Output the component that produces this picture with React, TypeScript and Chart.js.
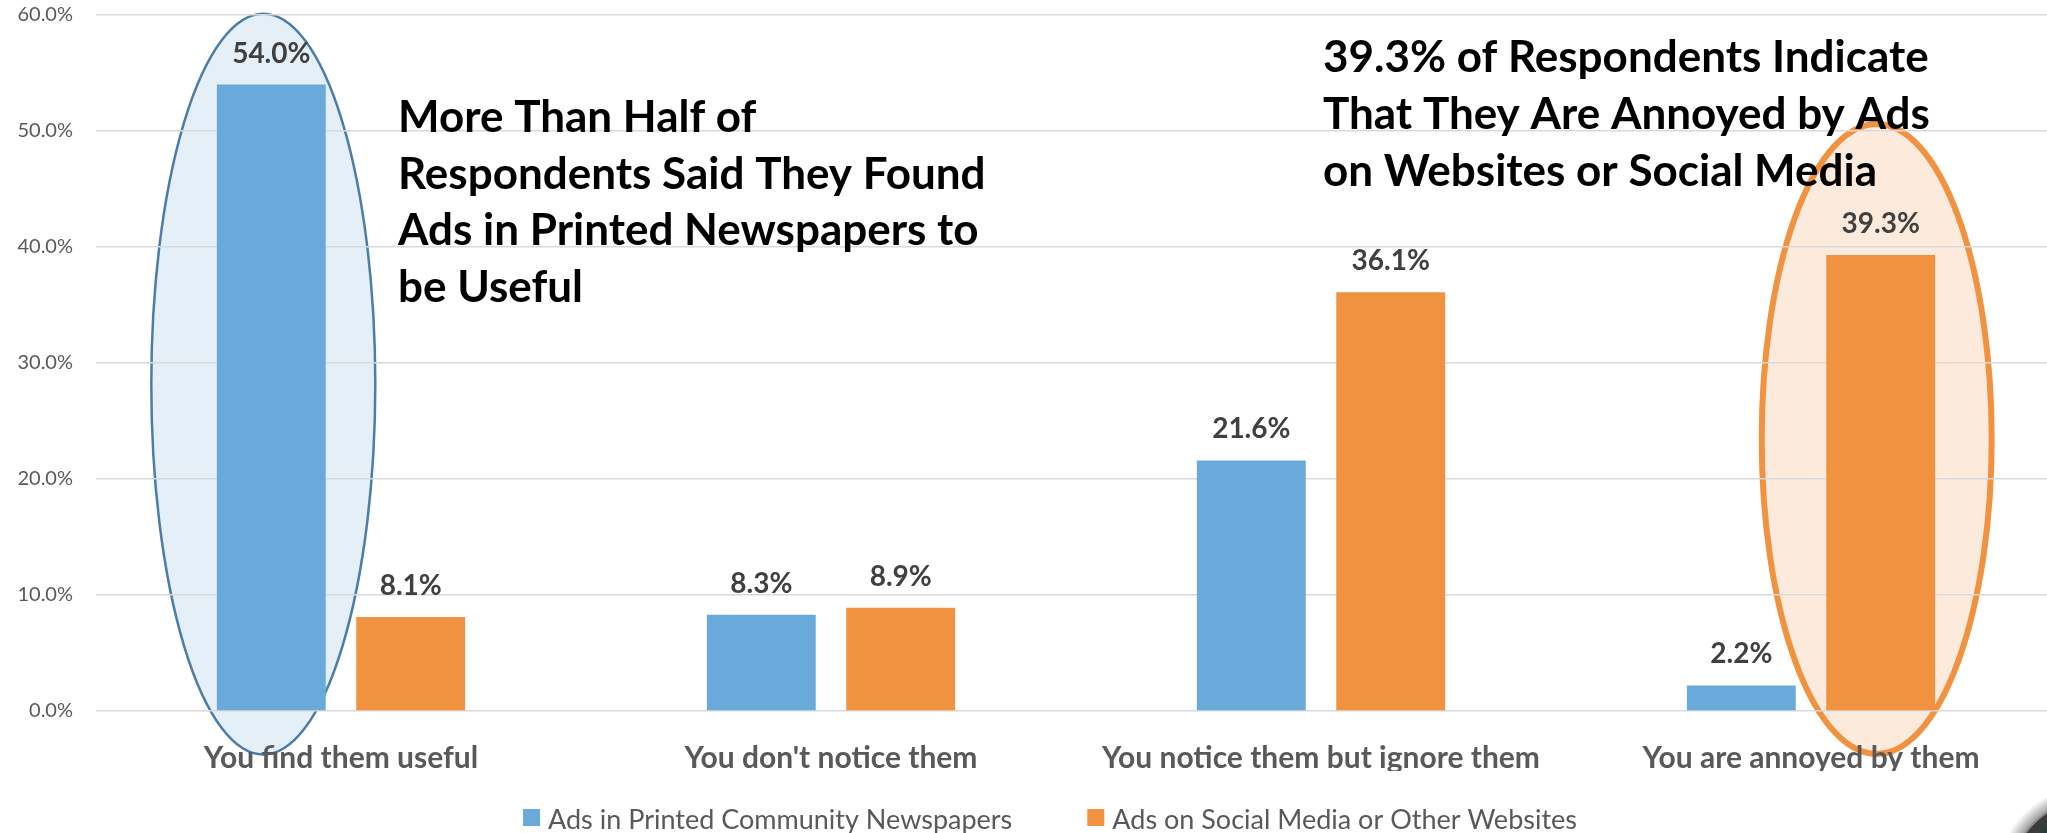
import React, { useEffect, useRef } from "react";
import { Chart, registerables } from "chart.js";

Chart.register(...registerables);

// ---- data ----
const categories = [
  "You find them useful",
  "You don't notice them",
  "You notice them but ignore them",
  "You are annoyed by them",
];
const printedValues = [54.0, 8.3, 21.6, 2.2];
const socialValues = [8.1, 8.9, 36.1, 39.3];
const seriesLabels = [
  "Ads in Printed Community Newspapers",
  "Ads on Social Media or Other Websites",
];
const yMin = 0;
const yMax = 60;
const yStep = 10;
const noteLeft = [
  "More Than Half of",
  "Respondents Said They Found",
  "Ads in Printed Newspapers to",
  "be Useful",
];
const noteRight = [
  "39.3% of Respondents Indicate",
  "That They Are Annoyed by Ads",
  "on Websites or Social Media",
];

// ---- styles ----
const BLUE = "#6AAADB";
const ORANGE = "#F19240";
const FONT = 'Lato, "Open Sans", sans-serif';

const overlayPlugin = {
  id: "overlay",
  beforeDraw(chart: any) {
    const ctx = chart.ctx;
    const y = chart.scales.y;
    const b0 = chart.getDatasetMeta(0).data[0];
    const o3 = chart.getDatasetMeta(1).data[3];
    const ell = (cx: number, top: number, bottom: number, rx: number, fill: string, stroke: string, lw: number) => {
      ctx.beginPath();
      ctx.ellipse(cx, (top + bottom) / 2, rx, (bottom - top) / 2, 0, 0, Math.PI * 2);
      ctx.fillStyle = fill;
      ctx.fill();
      ctx.lineWidth = lw;
      ctx.strokeStyle = stroke;
      ctx.stroke();
    };
    ctx.save();
    ell(b0.x - 8, y.getPixelForValue(60.1), y.getPixelForValue(-3.75), 112, "rgba(91,155,213,0.16)", "#4A7DA8", 2.5);
    ell(o3.x - 4, y.getPixelForValue(50.6), y.getPixelForValue(-3.7), 115, "rgba(241,146,64,0.18)", ORANGE, 6);
    ctx.restore();
  },
  afterDatasetsDraw(chart: any) {
    const ctx = chart.ctx;
    ctx.save();
    ctx.font = `bold 28px ${FONT}`;
    ctx.fillStyle = "#404040";
    ctx.textAlign = "center";
    ctx.textBaseline = "alphabetic";
    chart.data.datasets.forEach((ds: any, di: number) => {
      chart.getDatasetMeta(di).data.forEach((el: any, i: number) => {
        ctx.fillText(Number(ds.data[i]).toFixed(1) + "%", el.x, el.y - 22);
      });
    });
    ctx.restore();
  },
  afterDraw(chart: any) {
    const ctx = chart.ctx;
    const area = chart.chartArea;
    ctx.save();
    // annotations
    ctx.font = `bold 44px ${FONT}`;
    ctx.fillStyle = "#000000";
    ctx.textAlign = "left";
    ctx.textBaseline = "alphabetic";
    noteLeft.forEach((line, i) => {
      ctx.fillText(line, area.left + 302, area.top + 117 + i * 56.7);
    });
    noteRight.forEach((line, i) => {
      ctx.fillText(line, area.left + 1227, area.top + 57 + i * 57);
    });

    // legend
    ctx.font = `27px ${FONT}`;
    const w0 = ctx.measureText(seriesLabels[0]).width;
    const w1 = ctx.measureText(seriesLabels[1]).width;
    const box = 17;
    const gapText = 8;
    const gapItems = 75;
    const total = box + gapText + w0 + gapItems + box + gapText + w1;
    let x = chart.width / 2 - total / 2;
    const boxTop = chart.height - 24;
    const base = chart.height - 4;
    const colors = [BLUE, ORANGE];
    const widths = [w0, w1];
    seriesLabels.forEach((lab, i) => {
      ctx.fillStyle = colors[i];
      ctx.fillRect(x, boxTop, box, box);
      ctx.fillStyle = "#595959";
      ctx.fillText(lab, x + box + gapText, base);
      x += box + gapText + widths[i] + gapItems;
    });

    // corner artifact (round dark button, partly off-screen)
    const cx = 2090, cy = 880;
    const g = ctx.createRadialGradient(cx, cy, 78, cx, cy, 94);
    g.addColorStop(0, "rgba(0,0,0,0.45)");
    g.addColorStop(1, "rgba(0,0,0,0)");
    ctx.beginPath();
    ctx.arc(cx, cy, 94, 0, Math.PI * 2);
    ctx.fillStyle = g;
    ctx.fill();
    ctx.beginPath();
    ctx.arc(cx, cy, 80, 0, Math.PI * 2);
    ctx.fillStyle = "#3a3a3a";
    ctx.fill();
    ctx.lineWidth = 2;
    ctx.strokeStyle = "#8a8a8a";
    ctx.stroke();
    ctx.beginPath();
    ctx.arc(cx, cy, 68, 0, Math.PI * 2);
    ctx.fillStyle = "#1f3b44";
    ctx.fill();
    ctx.restore();
  },
};

export default function App() {
  const ref = useRef<HTMLCanvasElement>(null);

  useEffect(() => {
    if (!ref.current) return;
    const chart = new Chart(ref.current, {
      type: "bar",
      data: {
        labels: categories,
        datasets: [
          {
            label: seriesLabels[0],
            data: printedValues,
            backgroundColor: BLUE,
            barPercentage: 0.781,
            categoryPercentage: 0.569,
          },
          {
            label: seriesLabels[1],
            data: socialValues,
            backgroundColor: ORANGE,
            barPercentage: 0.781,
            categoryPercentage: 0.569,
          },
        ],
      },
      options: {
        responsive: false,
        devicePixelRatio: 1,
        animation: false,
        layout: { padding: { left: 0, right: 44, top: 15, bottom: 62 } },
        plugins: {
          legend: { display: false },
          tooltip: { enabled: false },
        },
        scales: {
          x: {
            grid: { display: false },
            border: { display: false },
            ticks: {
              color: "#595959",
              font: { family: FONT, size: 30, weight: "bold" },
              padding: 21,
              maxRotation: 0,
              autoSkip: false,
            },
            afterFit(s: any) {
              s.height = 60;
              s.paddingLeft = 0;
              s.paddingRight = 0;
            },
          },
          y: {
            min: yMin,
            max: yMax,
            border: { display: false },
            grid: { color: "#D9D9D9", lineWidth: 1.5, drawTicks: false },
            ticks: {
              stepSize: yStep,
              color: "#595959",
              font: { family: FONT, size: 20 },
              padding: 23,
              callback: (v: any) => Number(v).toFixed(1) + "%",
            },
            afterFit(s: any) {
              s.width = 96;
              s.paddingTop = 0;
              s.paddingBottom = 0;
            },
          },
        },
      },
      plugins: [overlayPlugin],
    });
    return () => chart.destroy();
  }, []);

  return (
    <div
      style={{
        position: "fixed",
        left: 0,
        top: 0,
        width: 2047,
        height: 833,
        overflow: "hidden",
        background: "#ffffff",
      }}
    >
      <canvas ref={ref} width={2100} height={833} style={{ display: "block", width: 2100, height: 833 }} />
    </div>
  );
}
